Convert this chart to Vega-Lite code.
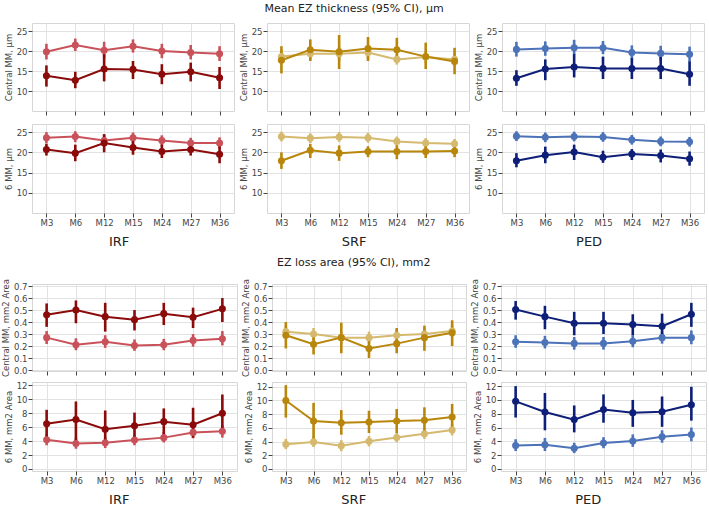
{
  "$schema": "https://vega.github.io/schema/vega-lite/v6.json",
  "padding": {"left": 0, "top": 2, "right": 0, "bottom": 0},
  "background": "white",
  "config": {
    "font": "DejaVu Sans",
    "view": {"stroke": "#d6d6d6"},
    "axis": {"grid": true, "gridColor": "#e2e2e2", "domain": false, "tickColor": "#444", "tickSize": 4, "labelFontSize": 8.5, "labelColor": "#444", "titleFontSize": 8.5, "titleFontWeight": "normal", "titleColor": "#444", "labelPadding": 1, "titlePadding": 3},
    "legend": {"labelFontSize": 5.5, "symbolSize": 32, "symbolType": "circle", "fillColor": "white", "strokeColor": "#cccccc", "padding": 3, "rowPadding": 1, "labelOffset": 3, "offset": 3, "cornerRadius": 2, "labelColor": "#333"},
    "title": {"fontWeight": "normal", "color": "#222", "anchor": "middle"}
  },
  "datasets": {
    "tIRFc": [
      {"s": "Low IRF", "m": "M3", "v": 19.8, "lo": 17.9, "hi": 21.8},
      {"s": "Low IRF", "m": "M6", "v": 21.5, "lo": 20.0, "hi": 23.1},
      {"s": "Low IRF", "m": "M12", "v": 20.2, "lo": 18.3, "hi": 22.3},
      {"s": "Low IRF", "m": "M15", "v": 21.2, "lo": 19.6, "hi": 22.9},
      {"s": "Low IRF", "m": "M24", "v": 20.0, "lo": 18.2, "hi": 21.8},
      {"s": "Low IRF", "m": "M27", "v": 19.6, "lo": 17.9, "hi": 21.5},
      {"s": "Low IRF", "m": "M36", "v": 19.3, "lo": 17.5, "hi": 21.2},
      {"s": "High IRF", "m": "M3", "v": 13.8, "lo": 11.1, "hi": 16.4},
      {"s": "High IRF", "m": "M6", "v": 12.7, "lo": 10.7, "hi": 14.8},
      {"s": "High IRF", "m": "M12", "v": 15.5, "lo": 12.4, "hi": 19.2},
      {"s": "High IRF", "m": "M15", "v": 15.4, "lo": 13.0, "hi": 17.5},
      {"s": "High IRF", "m": "M24", "v": 14.2, "lo": 11.7, "hi": 16.7},
      {"s": "High IRF", "m": "M27", "v": 14.8, "lo": 12.4, "hi": 17.1},
      {"s": "High IRF", "m": "M36", "v": 13.3, "lo": 10.5, "hi": 16.0}
    ],
    "tIRF6": [
      {"s": "Low IRF", "m": "M3", "v": 23.6, "lo": 22.2, "hi": 25.0},
      {"s": "Low IRF", "m": "M6", "v": 23.9, "lo": 22.5, "hi": 25.2},
      {"s": "Low IRF", "m": "M12", "v": 22.9, "lo": 21.5, "hi": 24.3},
      {"s": "Low IRF", "m": "M15", "v": 23.6, "lo": 22.2, "hi": 24.9},
      {"s": "Low IRF", "m": "M24", "v": 22.9, "lo": 21.6, "hi": 24.2},
      {"s": "Low IRF", "m": "M27", "v": 22.3, "lo": 21.0, "hi": 23.6},
      {"s": "Low IRF", "m": "M36", "v": 22.3, "lo": 21.0, "hi": 23.7},
      {"s": "High IRF", "m": "M3", "v": 20.7, "lo": 19.2, "hi": 22.1},
      {"s": "High IRF", "m": "M6", "v": 19.8, "lo": 17.8, "hi": 21.9},
      {"s": "High IRF", "m": "M12", "v": 22.3, "lo": 20.0, "hi": 24.5},
      {"s": "High IRF", "m": "M15", "v": 21.2, "lo": 19.4, "hi": 22.9},
      {"s": "High IRF", "m": "M24", "v": 20.2, "lo": 18.6, "hi": 21.9},
      {"s": "High IRF", "m": "M27", "v": 20.7, "lo": 19.2, "hi": 22.5},
      {"s": "High IRF", "m": "M36", "v": 19.5, "lo": 17.3, "hi": 21.5}
    ],
    "tSRFc": [
      {"s": "Low SRF", "m": "M3", "v": 18.6, "lo": 17.0, "hi": 20.3},
      {"s": "Low SRF", "m": "M6", "v": 19.3, "lo": 17.8, "hi": 20.9},
      {"s": "Low SRF", "m": "M12", "v": 19.3, "lo": 17.6, "hi": 21.0},
      {"s": "Low SRF", "m": "M15", "v": 19.6, "lo": 18.0, "hi": 21.2},
      {"s": "Low SRF", "m": "M24", "v": 17.9, "lo": 16.6, "hi": 19.3},
      {"s": "Low SRF", "m": "M27", "v": 18.5, "lo": 17.0, "hi": 20.0},
      {"s": "Low SRF", "m": "M36", "v": 17.9, "lo": 16.3, "hi": 19.5},
      {"s": "High SRF", "m": "M3", "v": 17.7, "lo": 14.4, "hi": 21.2},
      {"s": "High SRF", "m": "M6", "v": 20.3, "lo": 17.5, "hi": 22.9},
      {"s": "High SRF", "m": "M12", "v": 19.8, "lo": 15.5, "hi": 24.0},
      {"s": "High SRF", "m": "M15", "v": 20.6, "lo": 17.5, "hi": 23.5},
      {"s": "High SRF", "m": "M24", "v": 20.3, "lo": 17.4, "hi": 23.3},
      {"s": "High SRF", "m": "M27", "v": 18.6, "lo": 15.5, "hi": 22.1},
      {"s": "High SRF", "m": "M36", "v": 17.4, "lo": 14.2, "hi": 20.8}
    ],
    "tSRF6": [
      {"s": "Low SRF", "m": "M3", "v": 23.9, "lo": 22.7, "hi": 25.1},
      {"s": "Low SRF", "m": "M6", "v": 23.5, "lo": 22.3, "hi": 24.7},
      {"s": "Low SRF", "m": "M12", "v": 23.8, "lo": 22.6, "hi": 25.0},
      {"s": "Low SRF", "m": "M15", "v": 23.6, "lo": 22.4, "hi": 24.8},
      {"s": "Low SRF", "m": "M24", "v": 22.7, "lo": 21.5, "hi": 23.9},
      {"s": "Low SRF", "m": "M27", "v": 22.3, "lo": 21.1, "hi": 23.5},
      {"s": "Low SRF", "m": "M36", "v": 22.1, "lo": 20.9, "hi": 23.3},
      {"s": "High SRF", "m": "M3", "v": 17.9, "lo": 15.9, "hi": 20.0},
      {"s": "High SRF", "m": "M6", "v": 20.5, "lo": 18.6, "hi": 22.1},
      {"s": "High SRF", "m": "M12", "v": 19.8, "lo": 17.9, "hi": 21.7},
      {"s": "High SRF", "m": "M15", "v": 20.2, "lo": 18.8, "hi": 21.5},
      {"s": "High SRF", "m": "M24", "v": 20.2, "lo": 18.3, "hi": 21.7},
      {"s": "High SRF", "m": "M27", "v": 20.2, "lo": 18.6, "hi": 21.7},
      {"s": "High SRF", "m": "M36", "v": 20.3, "lo": 18.8, "hi": 21.7}
    ],
    "tPEDc": [
      {"s": "Low PED", "m": "M3", "v": 20.4, "lo": 18.6, "hi": 22.3},
      {"s": "Low PED", "m": "M6", "v": 20.6, "lo": 18.8, "hi": 22.4},
      {"s": "Low PED", "m": "M12", "v": 20.8, "lo": 19.0, "hi": 22.8},
      {"s": "Low PED", "m": "M15", "v": 20.8, "lo": 19.2, "hi": 22.5},
      {"s": "Low PED", "m": "M24", "v": 19.6, "lo": 17.8, "hi": 21.4},
      {"s": "Low PED", "m": "M27", "v": 19.4, "lo": 17.6, "hi": 21.3},
      {"s": "Low PED", "m": "M36", "v": 19.2, "lo": 17.3, "hi": 21.1},
      {"s": "High PED", "m": "M3", "v": 13.2, "lo": 11.3, "hi": 15.2},
      {"s": "High PED", "m": "M6", "v": 15.5, "lo": 12.7, "hi": 17.9},
      {"s": "High PED", "m": "M12", "v": 16.0, "lo": 13.4, "hi": 19.2},
      {"s": "High PED", "m": "M15", "v": 15.6, "lo": 13.0, "hi": 18.6},
      {"s": "High PED", "m": "M24", "v": 15.6, "lo": 13.0, "hi": 18.2},
      {"s": "High PED", "m": "M27", "v": 15.6, "lo": 13.0, "hi": 18.5},
      {"s": "High PED", "m": "M36", "v": 14.2, "lo": 11.3, "hi": 17.4}
    ],
    "tPED6": [
      {"s": "Low PED", "m": "M3", "v": 24.0, "lo": 22.8, "hi": 25.2},
      {"s": "Low PED", "m": "M6", "v": 23.7, "lo": 22.5, "hi": 24.9},
      {"s": "Low PED", "m": "M12", "v": 23.9, "lo": 22.7, "hi": 25.1},
      {"s": "Low PED", "m": "M15", "v": 23.8, "lo": 22.6, "hi": 25.0},
      {"s": "Low PED", "m": "M24", "v": 23.1, "lo": 21.9, "hi": 24.3},
      {"s": "Low PED", "m": "M27", "v": 22.7, "lo": 21.5, "hi": 23.9},
      {"s": "Low PED", "m": "M36", "v": 22.6, "lo": 21.4, "hi": 23.8},
      {"s": "High PED", "m": "M3", "v": 17.9, "lo": 16.3, "hi": 19.8},
      {"s": "High PED", "m": "M6", "v": 19.3, "lo": 17.3, "hi": 21.4},
      {"s": "High PED", "m": "M12", "v": 20.1, "lo": 18.1, "hi": 21.9},
      {"s": "High PED", "m": "M15", "v": 18.8, "lo": 17.4, "hi": 20.4},
      {"s": "High PED", "m": "M24", "v": 19.6, "lo": 18.1, "hi": 20.8},
      {"s": "High PED", "m": "M27", "v": 19.2, "lo": 17.5, "hi": 20.7},
      {"s": "High PED", "m": "M36", "v": 18.4, "lo": 16.7, "hi": 20.2}
    ],
    "lIRFc": [
      {"s": "Low IRF", "m": "M3", "v": 0.27, "lo": 0.217, "hi": 0.325},
      {"s": "Low IRF", "m": "M6", "v": 0.21, "lo": 0.165, "hi": 0.265},
      {"s": "Low IRF", "m": "M12", "v": 0.235, "lo": 0.185, "hi": 0.29},
      {"s": "Low IRF", "m": "M15", "v": 0.205, "lo": 0.16, "hi": 0.255},
      {"s": "Low IRF", "m": "M24", "v": 0.21, "lo": 0.165, "hi": 0.26},
      {"s": "Low IRF", "m": "M27", "v": 0.247, "lo": 0.195, "hi": 0.3},
      {"s": "Low IRF", "m": "M36", "v": 0.26, "lo": 0.205, "hi": 0.325},
      {"s": "High IRF", "m": "M3", "v": 0.46, "lo": 0.36, "hi": 0.555},
      {"s": "High IRF", "m": "M6", "v": 0.5, "lo": 0.39, "hi": 0.58},
      {"s": "High IRF", "m": "M12", "v": 0.445, "lo": 0.32, "hi": 0.56},
      {"s": "High IRF", "m": "M15", "v": 0.42, "lo": 0.33, "hi": 0.5},
      {"s": "High IRF", "m": "M24", "v": 0.47, "lo": 0.375, "hi": 0.56},
      {"s": "High IRF", "m": "M27", "v": 0.44, "lo": 0.35, "hi": 0.52},
      {"s": "High IRF", "m": "M36", "v": 0.51, "lo": 0.4, "hi": 0.6}
    ],
    "lIRF6": [
      {"s": "Low IRF", "m": "M3", "v": 4.2, "lo": 3.4, "hi": 5.0},
      {"s": "Low IRF", "m": "M6", "v": 3.65, "lo": 2.9, "hi": 4.5},
      {"s": "Low IRF", "m": "M12", "v": 3.75, "lo": 3.0, "hi": 4.5},
      {"s": "Low IRF", "m": "M15", "v": 4.15, "lo": 3.4, "hi": 4.9},
      {"s": "Low IRF", "m": "M24", "v": 4.5, "lo": 3.8, "hi": 5.3},
      {"s": "Low IRF", "m": "M27", "v": 5.25, "lo": 4.4, "hi": 6.0},
      {"s": "Low IRF", "m": "M36", "v": 5.4, "lo": 4.5, "hi": 6.3},
      {"s": "High IRF", "m": "M3", "v": 6.5, "lo": 4.2, "hi": 8.5},
      {"s": "High IRF", "m": "M6", "v": 7.1, "lo": 4.0, "hi": 9.7},
      {"s": "High IRF", "m": "M12", "v": 5.7, "lo": 3.5, "hi": 8.4},
      {"s": "High IRF", "m": "M15", "v": 6.2, "lo": 4.3, "hi": 8.1},
      {"s": "High IRF", "m": "M24", "v": 6.8, "lo": 4.9, "hi": 8.7},
      {"s": "High IRF", "m": "M27", "v": 6.35, "lo": 4.5, "hi": 8.8},
      {"s": "High IRF", "m": "M36", "v": 8.0, "lo": 5.6, "hi": 10.7}
    ],
    "lSRFc": [
      {"s": "Low SRF", "m": "M3", "v": 0.32, "lo": 0.27, "hi": 0.37},
      {"s": "Low SRF", "m": "M6", "v": 0.3, "lo": 0.25, "hi": 0.35},
      {"s": "Low SRF", "m": "M12", "v": 0.27, "lo": 0.22, "hi": 0.32},
      {"s": "Low SRF", "m": "M15", "v": 0.27, "lo": 0.22, "hi": 0.32},
      {"s": "Low SRF", "m": "M24", "v": 0.29, "lo": 0.24, "hi": 0.34},
      {"s": "Low SRF", "m": "M27", "v": 0.3, "lo": 0.25, "hi": 0.35},
      {"s": "Low SRF", "m": "M36", "v": 0.325, "lo": 0.275, "hi": 0.375},
      {"s": "High SRF", "m": "M3", "v": 0.29, "lo": 0.18, "hi": 0.4},
      {"s": "High SRF", "m": "M6", "v": 0.215, "lo": 0.13, "hi": 0.31},
      {"s": "High SRF", "m": "M12", "v": 0.27, "lo": 0.14, "hi": 0.395},
      {"s": "High SRF", "m": "M15", "v": 0.18, "lo": 0.1, "hi": 0.27},
      {"s": "High SRF", "m": "M24", "v": 0.22, "lo": 0.14, "hi": 0.35},
      {"s": "High SRF", "m": "M27", "v": 0.27, "lo": 0.16, "hi": 0.37},
      {"s": "High SRF", "m": "M36", "v": 0.31, "lo": 0.2, "hi": 0.415}
    ],
    "lSRF6": [
      {"s": "Low SRF", "m": "M3", "v": 3.6, "lo": 2.9, "hi": 4.4},
      {"s": "Low SRF", "m": "M6", "v": 3.95, "lo": 3.2, "hi": 4.7},
      {"s": "Low SRF", "m": "M12", "v": 3.4, "lo": 2.6, "hi": 4.2},
      {"s": "Low SRF", "m": "M15", "v": 4.05, "lo": 3.3, "hi": 4.8},
      {"s": "Low SRF", "m": "M24", "v": 4.6, "lo": 3.9, "hi": 5.3},
      {"s": "Low SRF", "m": "M27", "v": 5.15, "lo": 4.4, "hi": 5.9},
      {"s": "Low SRF", "m": "M36", "v": 5.7, "lo": 4.9, "hi": 6.5},
      {"s": "High SRF", "m": "M3", "v": 10.0, "lo": 7.5, "hi": 12.25},
      {"s": "High SRF", "m": "M6", "v": 7.0, "lo": 4.25, "hi": 9.65},
      {"s": "High SRF", "m": "M12", "v": 6.75, "lo": 5.0, "hi": 8.6},
      {"s": "High SRF", "m": "M15", "v": 6.85, "lo": 5.25, "hi": 8.5},
      {"s": "High SRF", "m": "M24", "v": 7.0, "lo": 5.25, "hi": 8.75},
      {"s": "High SRF", "m": "M27", "v": 7.1, "lo": 5.4, "hi": 9.0},
      {"s": "High SRF", "m": "M36", "v": 7.6, "lo": 5.75, "hi": 9.5}
    ],
    "lPEDc": [
      {"s": "Low PED", "m": "M3", "v": 0.235, "lo": 0.185, "hi": 0.29},
      {"s": "Low PED", "m": "M6", "v": 0.23, "lo": 0.18, "hi": 0.285},
      {"s": "Low PED", "m": "M12", "v": 0.222, "lo": 0.17, "hi": 0.275},
      {"s": "Low PED", "m": "M15", "v": 0.222, "lo": 0.17, "hi": 0.275},
      {"s": "Low PED", "m": "M24", "v": 0.24, "lo": 0.19, "hi": 0.29},
      {"s": "Low PED", "m": "M27", "v": 0.27, "lo": 0.22, "hi": 0.32},
      {"s": "Low PED", "m": "M36", "v": 0.27, "lo": 0.215, "hi": 0.33},
      {"s": "High PED", "m": "M3", "v": 0.505, "lo": 0.42, "hi": 0.575},
      {"s": "High PED", "m": "M6", "v": 0.445, "lo": 0.34, "hi": 0.535},
      {"s": "High PED", "m": "M12", "v": 0.39, "lo": 0.29, "hi": 0.485},
      {"s": "High PED", "m": "M15", "v": 0.39, "lo": 0.3, "hi": 0.485},
      {"s": "High PED", "m": "M24", "v": 0.38, "lo": 0.29, "hi": 0.465},
      {"s": "High PED", "m": "M27", "v": 0.365, "lo": 0.27, "hi": 0.47},
      {"s": "High PED", "m": "M36", "v": 0.465, "lo": 0.36, "hi": 0.56}
    ],
    "lPED6": [
      {"s": "Low PED", "m": "M3", "v": 3.4, "lo": 2.6, "hi": 4.3},
      {"s": "Low PED", "m": "M6", "v": 3.5, "lo": 2.6, "hi": 4.5},
      {"s": "Low PED", "m": "M12", "v": 3.0, "lo": 2.3, "hi": 3.8},
      {"s": "Low PED", "m": "M15", "v": 3.75, "lo": 3.0, "hi": 4.6},
      {"s": "Low PED", "m": "M24", "v": 4.05, "lo": 3.2, "hi": 5.0},
      {"s": "Low PED", "m": "M27", "v": 4.65, "lo": 3.8, "hi": 5.6},
      {"s": "Low PED", "m": "M36", "v": 5.0, "lo": 4.0, "hi": 6.0},
      {"s": "High PED", "m": "M3", "v": 9.8, "lo": 7.45, "hi": 12.0},
      {"s": "High PED", "m": "M6", "v": 8.25, "lo": 5.6, "hi": 11.0},
      {"s": "High PED", "m": "M12", "v": 7.15, "lo": 5.3, "hi": 9.2},
      {"s": "High PED", "m": "M15", "v": 8.6, "lo": 6.7, "hi": 10.8},
      {"s": "High PED", "m": "M24", "v": 8.15, "lo": 6.1, "hi": 10.0},
      {"s": "High PED", "m": "M27", "v": 8.3, "lo": 6.1, "hi": 10.5},
      {"s": "High PED", "m": "M36", "v": 9.3, "lo": 7.0, "hi": 11.9}
    ]
  },
  "columns": 1,
  "align": "none",
  "spacing": 8,
  "resolve": {"scale": {"color": "independent", "x": "independent", "y": "independent"}, "legend": {"color": "independent"}},
  "concat": [
    {
      "title": {"text": "Mean EZ thickness (95% CI), μm", "fontSize": 11, "offset": 9},
      "spacing": 3,
      "resolve": {"scale": {"color": "independent", "x": "independent", "y": "independent"}, "legend": {"color": "independent"}},
      "hconcat": [
        {
          "title": {"text": "IRF", "orient": "bottom", "fontSize": 13, "offset": 9},
          "spacing": 13,
          "bounds": "flush",
          "resolve": {"scale": {"color": "independent", "x": "independent", "y": "independent"}, "legend": {"color": "independent"}},
          "vconcat": [
            {
              "width": 202, "height": 88, "data": {"name": "tIRFc"},
              "encoding": {
                "x": {"field": "m", "type": "ordinal", "sort": ["M3", "M6", "M12", "M15", "M24", "M27", "M36"], "scale": {"type": "point", "padding": 0.5}, "axis": {"title": null, "labels": false}},
                "y": {"field": "v", "type": "quantitative", "scale": {"domain": [5, 27], "nice": false}, "axis": {"title": "Central MM, μm", "values": [10, 15, 20, 25]}}
              },
              "layer": [
                {"mark": {"type": "rule", "strokeWidth": 2.6}, "encoding": {"y": {"field": "lo", "type": "quantitative"}, "y2": {"field": "hi"}, "color": {"field": "s", "type": "nominal", "scale": {"domain": ["Low IRF", "High IRF"], "range": ["#c9525a", "#8b0a0a"]}, "legend": null}}},
                {"mark": {"type": "line", "strokeWidth": 2}, "encoding": {"color": {"field": "s", "type": "nominal", "scale": {"domain": ["Low IRF", "High IRF"], "range": ["#c9525a", "#8b0a0a"]}, "legend": null}}},
                {"mark": {"type": "circle", "size": 50, "opacity": 1}, "encoding": {"color": {"field": "s", "type": "nominal", "scale": {"domain": ["Low IRF", "High IRF"], "range": ["#c9525a", "#8b0a0a"]}, "legend": {"title": null, "orient": "bottom-left"}}}}
              ]
            },
            {
              "width": 202, "height": 89, "data": {"name": "tIRF6"},
              "encoding": {
                "x": {"field": "m", "type": "ordinal", "sort": ["M3", "M6", "M12", "M15", "M24", "M27", "M36"], "scale": {"type": "point", "padding": 0.5}, "axis": {"title": null, "labelAngle": 0}},
                "y": {"field": "v", "type": "quantitative", "scale": {"domain": [5, 27], "nice": false}, "axis": {"title": "6 MM, μm", "values": [10, 15, 20, 25]}}
              },
              "layer": [
                {"mark": {"type": "rule", "strokeWidth": 2.6}, "encoding": {"y": {"field": "lo", "type": "quantitative"}, "y2": {"field": "hi"}, "color": {"field": "s", "type": "nominal", "scale": {"domain": ["Low IRF", "High IRF"], "range": ["#c9525a", "#8b0a0a"]}, "legend": null}}},
                {"mark": {"type": "line", "strokeWidth": 2}, "encoding": {"color": {"field": "s", "type": "nominal", "scale": {"domain": ["Low IRF", "High IRF"], "range": ["#c9525a", "#8b0a0a"]}, "legend": null}}},
                {"mark": {"type": "circle", "size": 50, "opacity": 1}, "encoding": {"color": {"field": "s", "type": "nominal", "scale": {"domain": ["Low IRF", "High IRF"], "range": ["#c9525a", "#8b0a0a"]}, "legend": {"title": null, "orient": "bottom-left"}}}}
              ]
            }
          ]
        },
        {
          "title": {"text": "SRF", "orient": "bottom", "fontSize": 13, "offset": 9},
          "spacing": 13,
          "bounds": "flush",
          "resolve": {"scale": {"color": "independent", "x": "independent", "y": "independent"}, "legend": {"color": "independent"}},
          "vconcat": [
            {
              "width": 202, "height": 88, "data": {"name": "tSRFc"},
              "encoding": {
                "x": {"field": "m", "type": "ordinal", "sort": ["M3", "M6", "M12", "M15", "M24", "M27", "M36"], "scale": {"type": "point", "padding": 0.5}, "axis": {"title": null, "labels": false}},
                "y": {"field": "v", "type": "quantitative", "scale": {"domain": [5, 27], "nice": false}, "axis": {"title": "Central MM, μm", "values": [10, 15, 20, 25]}}
              },
              "layer": [
                {"mark": {"type": "rule", "strokeWidth": 2.6}, "encoding": {"y": {"field": "lo", "type": "quantitative"}, "y2": {"field": "hi"}, "color": {"field": "s", "type": "nominal", "scale": {"domain": ["Low SRF", "High SRF"], "range": ["#d4b96e", "#b8860b"]}, "legend": null}}},
                {"mark": {"type": "line", "strokeWidth": 2}, "encoding": {"color": {"field": "s", "type": "nominal", "scale": {"domain": ["Low SRF", "High SRF"], "range": ["#d4b96e", "#b8860b"]}, "legend": null}}},
                {"mark": {"type": "circle", "size": 50, "opacity": 1}, "encoding": {"color": {"field": "s", "type": "nominal", "scale": {"domain": ["Low SRF", "High SRF"], "range": ["#d4b96e", "#b8860b"]}, "legend": {"title": null, "orient": "bottom-left"}}}}
              ]
            },
            {
              "width": 202, "height": 89, "data": {"name": "tSRF6"},
              "encoding": {
                "x": {"field": "m", "type": "ordinal", "sort": ["M3", "M6", "M12", "M15", "M24", "M27", "M36"], "scale": {"type": "point", "padding": 0.5}, "axis": {"title": null, "labelAngle": 0}},
                "y": {"field": "v", "type": "quantitative", "scale": {"domain": [5, 27], "nice": false}, "axis": {"title": "6 MM, μm", "values": [10, 15, 20, 25]}}
              },
              "layer": [
                {"mark": {"type": "rule", "strokeWidth": 2.6}, "encoding": {"y": {"field": "lo", "type": "quantitative"}, "y2": {"field": "hi"}, "color": {"field": "s", "type": "nominal", "scale": {"domain": ["Low SRF", "High SRF"], "range": ["#d4b96e", "#b8860b"]}, "legend": null}}},
                {"mark": {"type": "line", "strokeWidth": 2}, "encoding": {"color": {"field": "s", "type": "nominal", "scale": {"domain": ["Low SRF", "High SRF"], "range": ["#d4b96e", "#b8860b"]}, "legend": null}}},
                {"mark": {"type": "circle", "size": 50, "opacity": 1}, "encoding": {"color": {"field": "s", "type": "nominal", "scale": {"domain": ["Low SRF", "High SRF"], "range": ["#d4b96e", "#b8860b"]}, "legend": {"title": null, "orient": "bottom-left"}}}}
              ]
            }
          ]
        },
        {
          "title": {"text": "PED", "orient": "bottom", "fontSize": 13, "offset": 9},
          "spacing": 13,
          "bounds": "flush",
          "resolve": {"scale": {"color": "independent", "x": "independent", "y": "independent"}, "legend": {"color": "independent"}},
          "vconcat": [
            {
              "width": 202, "height": 88, "data": {"name": "tPEDc"},
              "encoding": {
                "x": {"field": "m", "type": "ordinal", "sort": ["M3", "M6", "M12", "M15", "M24", "M27", "M36"], "scale": {"type": "point", "padding": 0.5}, "axis": {"title": null, "labels": false}},
                "y": {"field": "v", "type": "quantitative", "scale": {"domain": [5, 27], "nice": false}, "axis": {"title": "Central MM, μm", "values": [10, 15, 20, 25]}}
              },
              "layer": [
                {"mark": {"type": "rule", "strokeWidth": 2.6}, "encoding": {"y": {"field": "lo", "type": "quantitative"}, "y2": {"field": "hi"}, "color": {"field": "s", "type": "nominal", "scale": {"domain": ["Low PED", "High PED"], "range": ["#4c72b8", "#0d1f78"]}, "legend": null}}},
                {"mark": {"type": "line", "strokeWidth": 2}, "encoding": {"color": {"field": "s", "type": "nominal", "scale": {"domain": ["Low PED", "High PED"], "range": ["#4c72b8", "#0d1f78"]}, "legend": null}}},
                {"mark": {"type": "circle", "size": 50, "opacity": 1}, "encoding": {"color": {"field": "s", "type": "nominal", "scale": {"domain": ["Low PED", "High PED"], "range": ["#4c72b8", "#0d1f78"]}, "legend": {"title": null, "orient": "bottom-left"}}}}
              ]
            },
            {
              "width": 202, "height": 89, "data": {"name": "tPED6"},
              "encoding": {
                "x": {"field": "m", "type": "ordinal", "sort": ["M3", "M6", "M12", "M15", "M24", "M27", "M36"], "scale": {"type": "point", "padding": 0.5}, "axis": {"title": null, "labelAngle": 0}},
                "y": {"field": "v", "type": "quantitative", "scale": {"domain": [5, 27], "nice": false}, "axis": {"title": "6 MM, μm", "values": [10, 15, 20, 25]}}
              },
              "layer": [
                {"mark": {"type": "rule", "strokeWidth": 2.6}, "encoding": {"y": {"field": "lo", "type": "quantitative"}, "y2": {"field": "hi"}, "color": {"field": "s", "type": "nominal", "scale": {"domain": ["Low PED", "High PED"], "range": ["#4c72b8", "#0d1f78"]}, "legend": null}}},
                {"mark": {"type": "line", "strokeWidth": 2}, "encoding": {"color": {"field": "s", "type": "nominal", "scale": {"domain": ["Low PED", "High PED"], "range": ["#4c72b8", "#0d1f78"]}, "legend": null}}},
                {"mark": {"type": "circle", "size": 50, "opacity": 1}, "encoding": {"color": {"field": "s", "type": "nominal", "scale": {"domain": ["Low PED", "High PED"], "range": ["#4c72b8", "#0d1f78"]}, "legend": {"title": null, "orient": "bottom-left"}}}}
              ]
            }
          ]
        }
      ]
    },
    {
      "title": {"text": "EZ loss area (95% CI), mm2", "fontSize": 11, "offset": 10},
      "spacing": 2,
      "resolve": {"scale": {"color": "independent", "x": "independent", "y": "independent"}, "legend": {"color": "independent"}},
      "hconcat": [
        {
          "title": {"text": "IRF", "orient": "bottom", "fontSize": 13, "offset": 9},
          "spacing": 11,
          "bounds": "flush",
          "resolve": {"scale": {"color": "independent", "x": "independent", "y": "independent"}, "legend": {"color": "independent"}},
          "vconcat": [
            {
              "width": 205, "height": 87, "data": {"name": "lIRFc"},
              "encoding": {
                "x": {"field": "m", "type": "ordinal", "sort": ["M3", "M6", "M12", "M15", "M24", "M27", "M36"], "scale": {"type": "point", "padding": 0.5}, "axis": {"title": null, "labels": false}},
                "y": {"field": "v", "type": "quantitative", "scale": {"domain": [-0.008, 0.717], "nice": false}, "axis": {"title": "Central MM, mm2 Area", "values": [0, 0.1, 0.2, 0.3, 0.4, 0.5, 0.6, 0.7], "format": ".1f"}}
              },
              "layer": [
                {"mark": {"type": "rule", "strokeWidth": 2.6}, "encoding": {"y": {"field": "lo", "type": "quantitative"}, "y2": {"field": "hi"}, "color": {"field": "s", "type": "nominal", "scale": {"domain": ["Low IRF", "High IRF"], "range": ["#c9525a", "#8b0a0a"]}, "legend": null}}},
                {"mark": {"type": "line", "strokeWidth": 2}, "encoding": {"color": {"field": "s", "type": "nominal", "scale": {"domain": ["Low IRF", "High IRF"], "range": ["#c9525a", "#8b0a0a"]}, "legend": null}}},
                {"mark": {"type": "circle", "size": 50, "opacity": 1}, "encoding": {"color": {"field": "s", "type": "nominal", "scale": {"domain": ["Low IRF", "High IRF"], "range": ["#c9525a", "#8b0a0a"]}, "legend": {"title": null, "orient": "bottom-right"}}}}
              ]
            },
            {
              "width": 205, "height": 89, "data": {"name": "lIRF6"},
              "encoding": {
                "x": {"field": "m", "type": "ordinal", "sort": ["M3", "M6", "M12", "M15", "M24", "M27", "M36"], "scale": {"type": "point", "padding": 0.5}, "axis": {"title": null, "labelAngle": 0}},
                "y": {"field": "v", "type": "quantitative", "scale": {"domain": [-0.3, 12.5], "nice": false}, "axis": {"title": "6 MM, mm2 Area", "values": [0, 2, 4, 6, 8, 10, 12]}}
              },
              "layer": [
                {"mark": {"type": "rule", "strokeWidth": 2.6}, "encoding": {"y": {"field": "lo", "type": "quantitative"}, "y2": {"field": "hi"}, "color": {"field": "s", "type": "nominal", "scale": {"domain": ["Low IRF", "High IRF"], "range": ["#c9525a", "#8b0a0a"]}, "legend": null}}},
                {"mark": {"type": "line", "strokeWidth": 2}, "encoding": {"color": {"field": "s", "type": "nominal", "scale": {"domain": ["Low IRF", "High IRF"], "range": ["#c9525a", "#8b0a0a"]}, "legend": null}}},
                {"mark": {"type": "circle", "size": 50, "opacity": 1}, "encoding": {"color": {"field": "s", "type": "nominal", "scale": {"domain": ["Low IRF", "High IRF"], "range": ["#c9525a", "#8b0a0a"]}, "legend": {"title": null, "orient": "bottom-right"}}}}
              ]
            }
          ]
        },
        {
          "title": {"text": "SRF", "orient": "bottom", "fontSize": 13, "offset": 9},
          "spacing": 11,
          "bounds": "flush",
          "resolve": {"scale": {"color": "independent", "x": "independent", "y": "independent"}, "legend": {"color": "independent"}},
          "vconcat": [
            {
              "width": 194, "height": 87, "data": {"name": "lSRFc"},
              "encoding": {
                "x": {"field": "m", "type": "ordinal", "sort": ["M3", "M6", "M12", "M15", "M24", "M27", "M36"], "scale": {"type": "point", "padding": 0.5}, "axis": {"title": null, "labels": false}},
                "y": {"field": "v", "type": "quantitative", "scale": {"domain": [-0.008, 0.717], "nice": false}, "axis": {"title": "Central MM, mm2 Area", "values": [0, 0.1, 0.2, 0.3, 0.4, 0.5, 0.6, 0.7], "format": ".1f"}}
              },
              "layer": [
                {"mark": {"type": "rule", "strokeWidth": 2.6}, "encoding": {"y": {"field": "lo", "type": "quantitative"}, "y2": {"field": "hi"}, "color": {"field": "s", "type": "nominal", "scale": {"domain": ["Low SRF", "High SRF"], "range": ["#d4b96e", "#b8860b"]}, "legend": null}}},
                {"mark": {"type": "line", "strokeWidth": 2}, "encoding": {"color": {"field": "s", "type": "nominal", "scale": {"domain": ["Low SRF", "High SRF"], "range": ["#d4b96e", "#b8860b"]}, "legend": null}}},
                {"mark": {"type": "circle", "size": 50, "opacity": 1}, "encoding": {"color": {"field": "s", "type": "nominal", "scale": {"domain": ["Low SRF", "High SRF"], "range": ["#d4b96e", "#b8860b"]}, "legend": {"title": null, "orient": "bottom-right"}}}}
              ]
            },
            {
              "width": 194, "height": 89, "data": {"name": "lSRF6"},
              "encoding": {
                "x": {"field": "m", "type": "ordinal", "sort": ["M3", "M6", "M12", "M15", "M24", "M27", "M36"], "scale": {"type": "point", "padding": 0.5}, "axis": {"title": null, "labelAngle": 0}},
                "y": {"field": "v", "type": "quantitative", "scale": {"domain": [-0.3, 12.7], "nice": false}, "axis": {"title": "6 MM, mm2 Area", "values": [0, 2, 4, 6, 8, 10, 12]}}
              },
              "layer": [
                {"mark": {"type": "rule", "strokeWidth": 2.6}, "encoding": {"y": {"field": "lo", "type": "quantitative"}, "y2": {"field": "hi"}, "color": {"field": "s", "type": "nominal", "scale": {"domain": ["Low SRF", "High SRF"], "range": ["#d4b96e", "#b8860b"]}, "legend": null}}},
                {"mark": {"type": "line", "strokeWidth": 2}, "encoding": {"color": {"field": "s", "type": "nominal", "scale": {"domain": ["Low SRF", "High SRF"], "range": ["#d4b96e", "#b8860b"]}, "legend": null}}},
                {"mark": {"type": "circle", "size": 50, "opacity": 1}, "encoding": {"color": {"field": "s", "type": "nominal", "scale": {"domain": ["Low SRF", "High SRF"], "range": ["#d4b96e", "#b8860b"]}, "legend": {"title": null, "orient": "bottom-right"}}}}
              ]
            }
          ]
        },
        {
          "title": {"text": "PED", "orient": "bottom", "fontSize": 13, "offset": 9},
          "spacing": 11,
          "bounds": "flush",
          "resolve": {"scale": {"color": "independent", "x": "independent", "y": "independent"}, "legend": {"color": "independent"}},
          "vconcat": [
            {
              "width": 205, "height": 87, "data": {"name": "lPEDc"},
              "encoding": {
                "x": {"field": "m", "type": "ordinal", "sort": ["M3", "M6", "M12", "M15", "M24", "M27", "M36"], "scale": {"type": "point", "padding": 0.5}, "axis": {"title": null, "labels": false}},
                "y": {"field": "v", "type": "quantitative", "scale": {"domain": [-0.008, 0.717], "nice": false}, "axis": {"title": "Central MM, mm2 Area", "values": [0, 0.1, 0.2, 0.3, 0.4, 0.5, 0.6, 0.7], "format": ".1f"}}
              },
              "layer": [
                {"mark": {"type": "rule", "strokeWidth": 2.6}, "encoding": {"y": {"field": "lo", "type": "quantitative"}, "y2": {"field": "hi"}, "color": {"field": "s", "type": "nominal", "scale": {"domain": ["Low PED", "High PED"], "range": ["#4c72b8", "#0d1f78"]}, "legend": null}}},
                {"mark": {"type": "line", "strokeWidth": 2}, "encoding": {"color": {"field": "s", "type": "nominal", "scale": {"domain": ["Low PED", "High PED"], "range": ["#4c72b8", "#0d1f78"]}, "legend": null}}},
                {"mark": {"type": "circle", "size": 50, "opacity": 1}, "encoding": {"color": {"field": "s", "type": "nominal", "scale": {"domain": ["Low PED", "High PED"], "range": ["#4c72b8", "#0d1f78"]}, "legend": {"title": null, "orient": "bottom-right"}}}}
              ]
            },
            {
              "width": 205, "height": 89, "data": {"name": "lPED6"},
              "encoding": {
                "x": {"field": "m", "type": "ordinal", "sort": ["M3", "M6", "M12", "M15", "M24", "M27", "M36"], "scale": {"type": "point", "padding": 0.5}, "axis": {"title": null, "labelAngle": 0}},
                "y": {"field": "v", "type": "quantitative", "scale": {"domain": [-0.3, 12.6], "nice": false}, "axis": {"title": "6 MM, mm2 Area", "values": [0, 2, 4, 6, 8, 10, 12]}}
              },
              "layer": [
                {"mark": {"type": "rule", "strokeWidth": 2.6}, "encoding": {"y": {"field": "lo", "type": "quantitative"}, "y2": {"field": "hi"}, "color": {"field": "s", "type": "nominal", "scale": {"domain": ["Low PED", "High PED"], "range": ["#4c72b8", "#0d1f78"]}, "legend": null}}},
                {"mark": {"type": "line", "strokeWidth": 2}, "encoding": {"color": {"field": "s", "type": "nominal", "scale": {"domain": ["Low PED", "High PED"], "range": ["#4c72b8", "#0d1f78"]}, "legend": null}}},
                {"mark": {"type": "circle", "size": 50, "opacity": 1}, "encoding": {"color": {"field": "s", "type": "nominal", "scale": {"domain": ["Low PED", "High PED"], "range": ["#4c72b8", "#0d1f78"]}, "legend": {"title": null, "orient": "bottom-right"}}}}
              ]
            }
          ]
        }
      ]
    }
  ]
}
